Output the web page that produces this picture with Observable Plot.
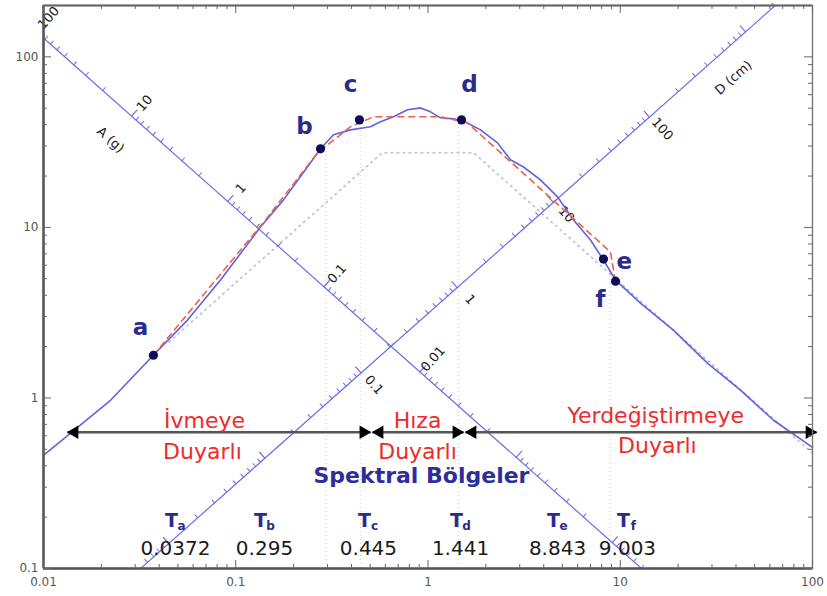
<!DOCTYPE html>
<html><head><meta charset="utf-8">
<script src="https://cdn.jsdelivr.net/npm/d3@7"></script>
<script src="https://cdn.jsdelivr.net/npm/@observablehq/plot@0.6"></script>
<style>body{margin:0;background:#fff} #chart{width:827px;height:596px}</style>
</head><body><div id="chart"></div>
<script>
// ---- data ----
// response spectrum (solid): period T (s), pseudo-velocity V (cm/s)
const specT = [0.01,0.0223,0.0373,0.0561,0.0833,0.1345,0.1772,0.236,0.276,0.3225,0.395,0.502,0.566,0.661,0.782,0.914,1.030,1.161,1.357,1.530,1.876,2.299,2.686,3.139,3.847,4.717,5.713,7.00,8.18,9.45,12.74,18.9,28.4,42.2,62.7,100];
const specV = [0.461,0.969,1.781,2.86,4.91,10.05,14.5,22.6,28.9,34.9,37.3,38.9,41.6,44.5,48.9,50.2,47.6,43.9,43.3,42.1,37.3,31.3,24.9,22.6,19.0,15.1,11.06,8.43,6.44,4.91,3.60,2.50,1.60,1.11,0.740,0.513];
// idealised envelope (red dashed)
const envT = [0.0373,0.1428,0.266,0.395,0.5205,1.161,1.605,8.90,9.33];
const envV = [1.78,11.06,27.3,38.9,44.5,44.5,41.0,7.17,5.18];
// smoothed design spectrum (dotted)
const desT = [0.045,0.578,1.725,100];
const desV = [2.13,27.4,27.4,0.473];
// control points
const ptName = ["a","b","c","d","e","f"];
const ptT = [0.0373,0.276,0.440,1.494,8.18,9.45];
const ptV = [1.78,28.9,42.7,42.7,6.52,4.84];
const ptLabelT = [0.0320,0.228,0.395,1.644,10.5,7.89];
const ptLabelV = [2.60,38.9,68.5,68.5,6.27,3.75];
// corner periods
const perSub = ["a","b","c","d","e","f"];
const perValue = ["0.0372","0.295","0.445","1.441","8.843","9.003"];
const perNum = [0.0372,0.295,0.445,1.441,8.843,9.003];
const perLabelT = [0.0486,0.1411,0.490,1.476,4.717,10.9];
const perLabelV = 0.189, perValueV = 0.131;
const perLineTop = [28.9,42.7,42.7,6.52];
// spectral regions
const regionText = ["İvmeye","Duyarlı","Hıza","Duyarlı","Yerdeğiştirmeye","Duyarlı"];
const regionT = [0.0688,0.0671,0.882,0.882,15.3,15.6];
const regionV = [0.730,0.485,0.730,0.485,0.781,0.525];
const arrowFrom = [0.01333,0.5145,1.567];
const arrowTo = [0.502,1.53,105];
const arrowV = 0.629;
const titleT = 0.925, titleV = 0.350;
// tripartite axes (end points)
const aAxisT = [0.01, 12.9], aAxisV = [129, 0.1];
const dAxisT = [0.032, 64], dAxisV = [0.1, 200];
const aLabels = [100,10,1,0.1,0.01];
const dLabels = [0.1,1,10,100];
const aTitle = {T:0.0223, V:32.6, text:"A (g)"};
const dTitle = {T:38.8, V:75.4, text:"D (cm)"};
// frame ticks
const xMajor = [0.01,0.1,1,10,100];
const yMajor = [0.1,1,10,100];
const mult = [2,3,4,5,6,7,8,9];
const xMinor = [0.01,0.1,1,10].flatMap(e => mult.map(m => m*e));
const yMinor = [0.1,1,10].flatMap(e => mult.map(m => m*e));

// ---- tripartite geometry ----
const G = 981;
const aProd = aAxisT[0]*aAxisV[0];
const dRatio = dAxisV[1]/dAxisT[1];
const aPoint = A => { const T = Math.sqrt(2*Math.PI*aProd/(G*A)); return {T, V: aProd/T, A}; };
const dPoint = D => { const T = Math.sqrt(2*Math.PI*D/dRatio); return {T, V: dRatio*T, D}; };
const decA = [1e-5,1e-4,1e-3,1e-2,1e-1,1,10];
const decD = [1e-4,1e-3,1e-2,1e-1,1,10,100,1000];
const aMajor = decA.map(aPoint).filter(p => p.T>=aAxisT[0] && p.T<=aAxisT[1]);
const aMinor = decA.flatMap(e => mult.map(m => aPoint(m*e))).filter(p => p.T>=aAxisT[0] && p.T<=aAxisT[1]);
const dMajor = decD.map(dPoint).filter(p => p.T>=dAxisT[0] && p.T<=dAxisT[1]);
const dMinor = decD.flatMap(e => mult.map(m => dPoint(m*e))).filter(p => p.T>=dAxisT[0] && p.T<=dAxisT[1]);
const ang = 41.5;
const tickShape = {draw(ctx, l) { ctx.moveTo(0,0); ctx.lineTo(0,-l); }};

const zip = (xs, ys) => xs.map((x,i) => ({T:x, V:ys[i]}));
const font = "DejaVu Sans";
const blueLine = "#6e6ee4";
const W = 827, H = 596, mL = 43, mR = 15, mT = 5, mB = 28;
const fw = W - mL - mR, fh = H - mT - mB;
const tk = "#666";

const plot = Plot.plot({
  width: W, height: H,
  marginLeft: mL, marginRight: mR, marginTop: mT, marginBottom: mB,
  x: {type:"log", domain:[0.01,100], label:null},
  y: {type:"log", domain:[0.1,200], label:null},
  style: {fontFamily: font, background:"#fff"},
  marks: [
    // vertical dotted period lines
    Plot.ruleX(perNum.slice(1,5), {x: d=>d, y1: 0.1, y2: (d,i)=>perLineTop[i], stroke:"#d4d9bf", strokeWidth:1.2, strokeDasharray:"1,3"}),
    // design spectrum dotted
    Plot.line(zip(desT,desV), {x:"T", y:"V", stroke:"#b4bde0", strokeWidth:1.6, strokeDasharray:"1.5,4.5"}),
    // tripartite axes
    Plot.line(zip(aAxisT,aAxisV), {x:"T", y:"V", stroke:blueLine, strokeWidth:1.2, clip:true}),
    Plot.line(zip(dAxisT,dAxisV), {x:"T", y:"V", stroke:blueLine, strokeWidth:1.2, clip:true}),
    Plot.vector(aMinor, {x:"T", y:"V", length:4, rotate:ang, anchor:"start", shape:tickShape, stroke:blueLine, strokeWidth:1}),
    Plot.vector(aMajor, {x:"T", y:"V", length:8, rotate:ang, anchor:"start", shape:tickShape, stroke:blueLine, strokeWidth:1.2}),
    Plot.vector(dMinor, {x:"T", y:"V", length:4, rotate:-ang, anchor:"start", shape:tickShape, stroke:blueLine, strokeWidth:1}),
    Plot.vector(dMajor, {x:"T", y:"V", length:8, rotate:-ang, anchor:"start", shape:tickShape, stroke:blueLine, strokeWidth:1.2}),
    Plot.text(aLabels.map(aPoint), {x:"T", y:"V", text: d=>String(d.A), rotate: -(90-ang), dx:13, dy:-13, fontSize:13, fill:"#1a1a1a"}),
    Plot.text(dLabels.map(dPoint), {x:"T", y:"V", text: d=>String(d.D), rotate: (90-ang), dx:13, dy:12, fontSize:13, fill:"#1a1a1a"}),
    Plot.text([aTitle], {x:"T", y:"V", text:"text", rotate: ang, fontSize:13, fill:"#1a1a1a"}),
    Plot.text([dTitle], {x:"T", y:"V", text:"text", rotate: -ang, fontSize:13, fill:"#1a1a1a"}),
    // spectrum
    Plot.line(zip(specT,specV), {x:"T", y:"V", stroke:"#6262dc", strokeWidth:1.6}),
    Plot.line(zip(envT,envV), {x:"T", y:"V", stroke:"#f0604a", strokeWidth:1.6, strokeDasharray:"6,5"}),
    Plot.dot(zip(ptT,ptV), {x:"T", y:"V", r:4.6, fill:"#0c0c58", stroke:"none"}),
    Plot.text(ptName, {x:(d,i)=>ptLabelT[i], y:(d,i)=>ptLabelV[i], text:d=>d, fontSize:23, fontWeight:"bold", fill:"#2b2b8c"}),
    // region arrows
    Plot.link(arrowFrom, {x1:d=>d, x2:(d,i)=>arrowTo[i], y1:arrowV, y2:arrowV, stroke:"#555", strokeWidth:2.6}),
    Plot.dot(arrowFrom, {x:d=>d, y:arrowV, symbol:"triangle", rotate:-90, r:5, dx:7, fill:"#000"}),
    Plot.dot(arrowTo, {x:d=>d, y:arrowV, symbol:"triangle", rotate:90, r:5, dx:-7, fill:"#000"}),
    Plot.text(regionText, {x:(d,i)=>regionT[i], y:(d,i)=>regionV[i], text:d=>d, fontSize:22, fill:"#ee2b2b", ariaLabel:"wide"}),
    Plot.text(["Spektral Bölgeler"], {x:titleT, y:titleV, text:d=>d, fontSize:22, fontWeight:"bold", fill:"#2e2e98", ariaLabel:"wider"}),
    // period labels
    Plot.text(perSub, {x:(d,i)=>perLabelT[i], y:perLabelV, text:()=>"T", dx:-4, fontSize:19, fontWeight:"bold", fill:"#2b2b8c"}),
    Plot.text(perSub, {x:(d,i)=>perLabelT[i], y:perLabelV, text:d=>d, dx:6, dy:5, fontSize:12, fontWeight:"bold", fill:"#2b2b8c"}),
    Plot.text(perValue, {x:(d,i)=>perLabelT[i], y:perValueV, text:d=>d, fontSize:20, fill:"#1a1a1a"}),
    // frame and axes
    Plot.frame({stroke:"#777", strokeWidth:1.4}),
    Plot.ruleX([0.01], {stroke:"#555", strokeWidth:2.5}),
    Plot.ruleY([0.1], {stroke:"#555", strokeWidth:2.5}),
    Plot.ruleY([200], {stroke:"#666", strokeWidth:2}),
    // inward ticks: bottom / top
    Plot.tickX(xMinor, {x:d=>d, insetTop: fh-4, stroke:tk}),
    Plot.tickX(xMajor, {x:d=>d, insetTop: fh-8, stroke:tk}),
    Plot.tickX(xMinor, {x:d=>d, insetBottom: fh-4, stroke:tk}),
    Plot.tickX(xMajor, {x:d=>d, insetBottom: fh-8, stroke:tk}),
    // inward ticks: left / right
    Plot.tickY(yMinor, {y:d=>d, insetRight: fw-4, stroke:tk}),
    Plot.tickY(yMajor, {y:d=>d, insetRight: fw-8, stroke:tk}),
    Plot.tickY(yMinor, {y:d=>d, insetLeft: fw-4, stroke:tk}),
    Plot.tickY(yMajor, {y:d=>d, insetLeft: fw-8, stroke:tk}),
    Plot.axisX(xMajor, {anchor:"bottom", tickSize:0, tickPadding:9, tickFormat:d=>String(d), fontSize:12, fill:"#555"}),
    Plot.axisY(yMajor, {anchor:"left", tickSize:0, tickPadding:5, tickFormat:d=>String(d), fontSize:12, fill:"#555"})
  ]
});
plot.querySelectorAll('g[aria-label="wide"] text').forEach(t => {
  t.setAttribute("transform", (t.getAttribute("transform")||"") + " scale(1.18,1)");
});
plot.querySelectorAll('g[aria-label="wider"] text').forEach(t => {
  t.setAttribute("transform", (t.getAttribute("transform")||"") + " scale(1.28,1)");
});
document.getElementById("chart").appendChild(plot);
</script></body></html>
